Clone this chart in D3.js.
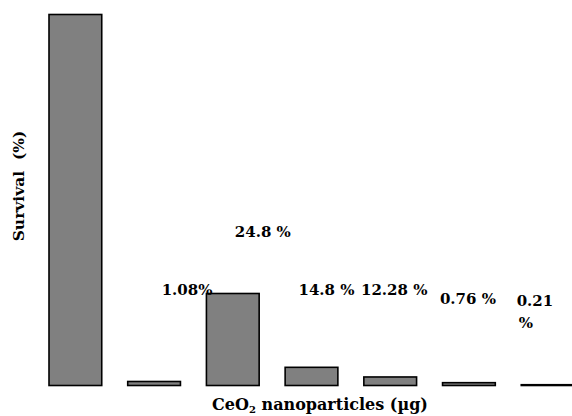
<!DOCTYPE html>
<html>
<head>
<meta charset="utf-8">
<script src="https://cdn.jsdelivr.net/npm/d3@7"></script>
<style>
  html, body { margin: 0; padding: 0; background: #fff; }
</style>
</head>
<body>
<div id="chart"></div>
<script>
"use strict";

// data
var doses = ["0", "1", "2", "3", "4", "5", "6"];
var survival = [100, 1.08, 24.8, 4.9, 2.3, 0.76, 0.21];
var labels = [null, "1.08%", "24.8 %", "14.8 %", "12.28 %", "0.76 %", "0.21\n%"];

// where each annotation sits, relative to its bar centre
var labelDx = [0, 33, 30, 15, 4, -1, -31];
var labelY = [0, 295, 237, 295, 295, 304, 306];
var labelAnchor = ["middle", "middle", "middle", "middle", "middle", "middle", "start"];

var FONT = "'DejaVu Serif', serif";
var width = 572, height = 416;

var svg = d3.select("#chart")
    .append("svg")
    .attr("width", width)
    .attr("height", height)
    .attr("font-family", FONT)
    .attr("font-weight", "bold");

var x = d3.scaleBand()
    .domain(doses)
    .range([49, 574])
    .paddingInner(0.33)
    .paddingOuter(0);

var y = d3.scaleLinear()
    .domain([0, 100])
    .range([385.5, 14.5]);

// bars
svg.selectAll("rect.bar")
    .data(survival)
    .enter()
    .append("rect")
    .attr("class", "bar")
    .attr("x", function (d, i) { return x(doses[i]); })
    .attr("y", function (d) { return y(d); })
    .attr("width", x.bandwidth())
    .attr("height", function (d) { return y(0) - y(d); })
    .style("fill", "#808080")
    .style("stroke", "#000")
    .style("stroke-width", 1.6);

// annotations
labels.forEach(function (d, i) {
    if (d === null) return;
    var x0 = x(doses[i]) + x.bandwidth() / 2 + labelDx[i];
    var t = svg.append("text")
        .attr("font-size", 15)
        .attr("text-anchor", labelAnchor[i])
        .attr("x", x0)
        .attr("y", labelY[i]);
    d.split("\n").forEach(function (s, k) {
        t.append("tspan")
            .attr("x", x0 + (k > 0 ? 2 : 0))
            .attr("dy", k === 0 ? 0 : 22)
            .text(s);
    });
});

// axis titles
var xt = svg.append("text")
    .attr("x", 320)
    .attr("y", 410)
    .attr("text-anchor", "middle")
    .attr("font-size", 16);
xt.append("tspan").text("CeO");
xt.append("tspan").attr("dy", 3).attr("font-size", 10).text("2");
xt.append("tspan").attr("dy", -3).text(" nanoparticles (\u00b5g)");

svg.append("text")
    .attr("transform", "translate(24,186) rotate(-90)")
    .attr("text-anchor", "middle")
    .attr("font-size", 15.5)
    .style("white-space", "pre")
    .text("Survival  (%)");
</script>
</body>
</html>
